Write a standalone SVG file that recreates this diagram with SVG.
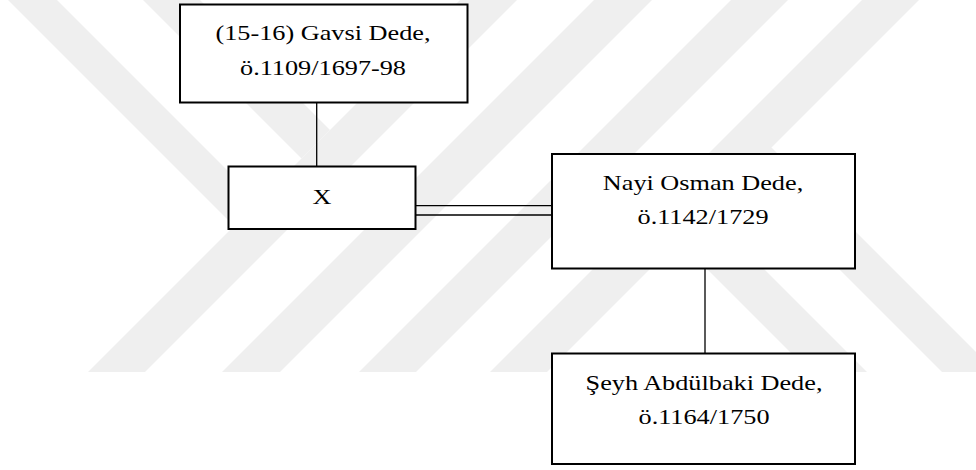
<svg xmlns="http://www.w3.org/2000/svg" width="976" height="470" viewBox="0 0 976 470">
<style>
.wm{fill:#efefef;stroke:none}
.box{fill:#ffffff;stroke:#000000;stroke-width:2}
.ln{fill:none;stroke:#000000;stroke-width:1.3}
.t{font-family:"Liberation Serif","Times New Roman",serif;font-size:21px;fill:#000000;text-anchor:middle}
</style>
<rect x="0" y="0" width="976" height="470" fill="#ffffff"/>
<g id="watermark">
<polygon class="wm" points="460,0 517,0 145,372 88,372"/>
<polygon class="wm" points="8,0 57,0 258.5,201.5 234,226"/>
<polygon class="wm" points="143,0 200,0 330,130 301.5,158.5"/>
<polygon class="wm" points="594,0 652,0 280,372 222,372"/>
<polygon class="wm" points="731,0 788,0 416,372 359,372"/>
<polygon class="wm" points="862,0 919,0 547,372 490,372"/>
<polygon class="wm" points="650,212 707,212 867,372 810,372"/>
<polygon class="wm" points="716,146 771.5,147.5 996,372 942,372"/>
</g>
<g id="connectors">
<line class="ln" x1="316.7" y1="102" x2="316.7" y2="166"/>
<line class="ln" x1="416" y1="205.7" x2="552" y2="205.7"/>
<line class="ln" x1="416" y1="215" x2="552" y2="215"/>
<line class="ln" x1="705" y1="268" x2="705" y2="353"/>
</g>
<g id="node-gavsi">
<rect class="box" x="180" y="4.5" width="287.5" height="98"/>
<text class="t" transform="translate(323 40) scale(1.25 1)"><tspan x="0" y="0">(15-16) Gavsi Dede,</tspan><tspan x="0" y="35">ö.1109/1697-98</tspan></text>
</g>
<g id="node-x">
<rect class="box" x="228.5" y="166.5" width="187" height="62.5"/>
<text class="t" transform="translate(322 203.5) scale(1.25 1)">X</text>
</g>
<g id="node-nayi">
<rect class="box" x="552" y="154" width="303" height="114.5"/>
<text class="t" transform="translate(703 189.5) scale(1.25 1)"><tspan x="0" y="0">Nayi Osman Dede,</tspan><tspan x="0" y="34.5">ö.1142/1729</tspan></text>
</g>
<g id="node-seyh">
<rect class="box" x="552" y="353.5" width="303" height="110.5"/>
<text class="t" transform="translate(704 389.5) scale(1.25 1)"><tspan x="0" y="0">Şeyh Abdülbaki Dede,</tspan><tspan x="0" y="34.5">ö.1164/1750</tspan></text>
</g>
</svg>
